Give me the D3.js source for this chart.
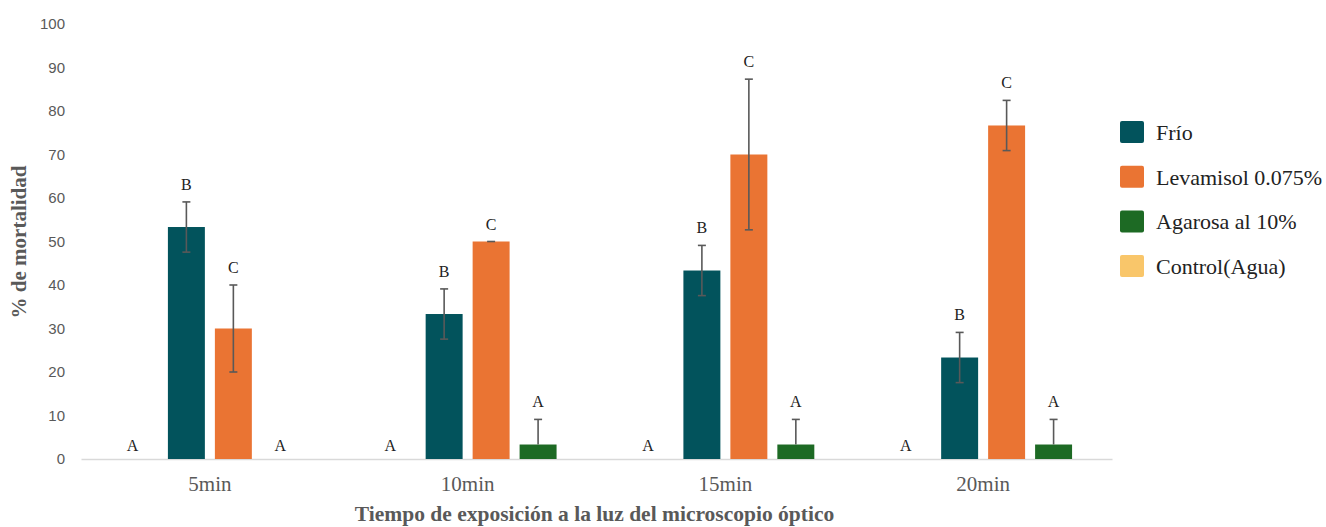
<!DOCTYPE html>
<html>
<head>
<meta charset="utf-8">
<script src="https://cdn.jsdelivr.net/npm/d3@7"></script>
<style>
  body { margin: 0; background: #fff; }
</style>
</head>
<body>
<div class="chart"></div>
<script>
// Datos
const tiempos = ["5min", "10min", "15min", "20min"];
const series = ["Control(Agua)", "Frío", "Levamisol 0.075%", "Agarosa al 10%"];
const legendOrder = ["Frío", "Levamisol 0.075%", "Agarosa al 10%", "Control(Agua)"];
const colores = ["#f9c66a", "#02535c", "#ea7433", "#1d6a24"];

// valores por serie (mismo orden que tiempos)
const control = [0, 0, 0, 0];
const frio = [53.33, 33.33, 43.33, 23.33];
const levamisol = [30, 50, 70, 76.67];
const agarosa = [0, 3.33, 3.33, 3.33];

const errControl = [0, 0, 0, 0];
const errFrio = [5.77, 5.77, 5.77, 5.77];
const errLevamisol = [10, 0, 17.32, 5.77];
const errAgarosa = [0, 5.77, 5.77, 5.77];

const letrasControl = ["A", "A", "A", "A"];
const letrasFrio = ["B", "B", "B", "B"];
const letrasLevamisol = ["C", "C", "C", "C"];
const letrasAgarosa = ["A", "A", "A", "A"];

const yTicks = [0, 10, 20, 30, 40, 50, 60, 70, 80, 90, 100];

// Medidas
const size = { width: 1326, height: 527 };
const margin = { top: 24, bottom: 68, left: 81, right: 214 };

const valores = [control, frio, levamisol, agarosa];
const errores = [errControl, errFrio, errLevamisol, errAgarosa];
const letras = [letrasControl, letrasFrio, letrasLevamisol, letrasAgarosa];

const datos = [];
tiempos.forEach((t, i) => {
    series.forEach((s, j) => {
        datos.push({ t: t, s: s, v: valores[j][i], e: errores[j][i], letra: letras[j][i] });
    });
});

const svg = d3.select(".chart")
    .append("svg")
    .attr("width", size.width)
    .attr("height", size.height);

const x0 = d3.scaleBand()
    .domain(tiempos)
    .range([margin.left, size.width - margin.right]);

const x1 = d3.scaleBand()
    .domain(series)
    .range([0, x0.bandwidth()])
    .paddingInner(0.213)
    .paddingOuter(0.85);

const y = d3.scaleLinear()
    .domain([0, 100])
    .range([size.height - margin.bottom, margin.top]);

const color = d3.scaleOrdinal().domain(series).range(colores);

// eje y (solo etiquetas)
const ejeY = svg.append("g")
    .attr("transform", `translate(${margin.left - 10},0)`)
    .call(d3.axisLeft(y).tickValues(yTicks).tickSize(0).tickPadding(6));
ejeY.select(".domain").remove();
ejeY.selectAll("text")
    .attr("font-family", "Liberation Sans, Arial, sans-serif")
    .attr("font-size", 15)
    .attr("fill", "#595959");

// eje x
const ejeX = svg.append("g")
    .attr("transform", `translate(0,${y(0)})`)
    .call(d3.axisBottom(x0).tickSize(0).tickPadding(17));
ejeX.select(".domain").attr("stroke", "#d9d9d9").attr("stroke-width", 1.5);
ejeX.selectAll("text")
    .attr("font-family", "Liberation Serif, Times New Roman, serif")
    .attr("font-size", 21)
    .attr("fill", "#595959");

// barras
const grupos = svg.append("g");
grupos.selectAll("rect")
    .data(datos)
    .join("rect")
    .attr("x", (d) => x0(d.t) + x1(d.s))
    .attr("y", (d) => y(d.v))
    .attr("width", x1.bandwidth())
    .attr("height", (d) => y(0) - y(d.v))
    .attr("fill", (d) => color(d.s));

// barras de error
const conError = datos.filter((d) => d.e > 0 || (d.s === "Levamisol 0.075%" && d.v > 0));
const cx = (d) => x0(d.t) + x1(d.s) + x1.bandwidth() / 2;
const bajo = (d) => (d.v - d.e < 0 ? d.v : d.v - d.e);
const err = svg.append("g").attr("stroke", "#595959").attr("stroke-width", 1.6);
err.selectAll("line.v")
    .data(conError)
    .join("line")
    .attr("class", "v")
    .attr("x1", cx).attr("x2", cx)
    .attr("y1", (d) => y(d.v + d.e))
    .attr("y2", (d) => y(bajo(d)));
err.selectAll("line.top")
    .data(conError)
    .join("line")
    .attr("class", "top")
    .attr("x1", (d) => cx(d) - 4).attr("x2", (d) => cx(d) + 4)
    .attr("y1", (d) => y(d.v + d.e)).attr("y2", (d) => y(d.v + d.e));
err.selectAll("line.bot")
    .data(conError.filter((d) => d.v - d.e >= 0 && d.e > 0))
    .join("line")
    .attr("class", "bot")
    .attr("x1", (d) => cx(d) - 4).attr("x2", (d) => cx(d) + 4)
    .attr("y1", (d) => y(d.v - d.e)).attr("y2", (d) => y(d.v - d.e));

// letras
svg.append("g")
    .selectAll("text")
    .data(datos)
    .join("text")
    .attr("x", (d) => (d.v === 0 && d.s === "Control(Agua)" ? cx(d) - 7 : cx(d)))
    .attr("y", (d) => y(d.v + d.e) - (d.v === 0 ? 8 : 12))
    .attr("text-anchor", "middle")
    .attr("font-family", "Liberation Serif, Times New Roman, serif")
    .attr("font-size", 16)
    .attr("fill", "#222")
    .text((d) => d.letra);

// titulos
svg.append("text")
    .attr("x", x0.range()[0] + (x0.range()[1] - x0.range()[0]) / 2 - 2)
    .attr("y", 521)
    .attr("text-anchor", "middle")
    .attr("font-family", "Liberation Serif, Times New Roman, serif")
    .attr("font-weight", "bold")
    .attr("font-size", 21.5)
    .attr("fill", "#595959")
    .text("Tiempo de exposición a la luz del microscopio óptico");

svg.append("text")
    .attr("transform", `translate(26,242) rotate(-90)`)
    .attr("text-anchor", "middle")
    .attr("font-family", "Liberation Serif, Times New Roman, serif")
    .attr("font-weight", "bold")
    .attr("font-size", 21)
    .attr("fill", "#595959")
    .text("% de mortalidad");

// leyenda
const leyenda = svg.append("g").attr("transform", "translate(1120,121)");
const fila = leyenda.selectAll("g")
    .data(legendOrder)
    .join("g")
    .attr("transform", (d, i) => `translate(0,${i * 44.7})`);
fila.append("rect")
    .attr("width", 24)
    .attr("height", 22)
    .attr("rx", 2)
    .attr("fill", (d) => color(d));
fila.append("text")
    .attr("x", 36)
    .attr("y", 19)
    .attr("font-family", "Liberation Serif, Times New Roman, serif")
    .attr("font-size", 22)
    .attr("fill", "#222")
    .text((d) => d);
</script>
</body>
</html>
